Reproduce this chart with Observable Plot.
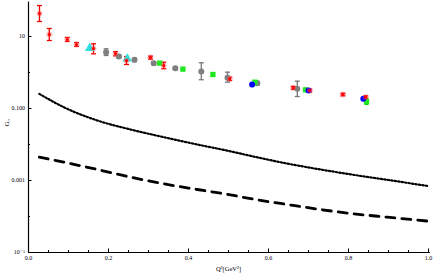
<!DOCTYPE html>
<html>
<head>
<meta charset="utf-8">
<script src="https://cdn.jsdelivr.net/npm/d3@7"></script>
<script src="https://cdn.jsdelivr.net/npm/@observablehq/plot@0.6"></script>
<style>
  html, body { margin: 0; padding: 0; background: #fff; }
  #chart svg { display: block; }
</style>
</head>
<body>
<div id="chart"></div>
<script>
// Red data set (with error bars)
const redQ2 = [0.0275, 0.052, 0.097, 0.12, 0.1625, 0.2175, 0.245, 0.305, 0.338, 0.503, 0.662, 0.703, 0.786, 0.843];
const redG3 = [43.6, 11.4, 8.26, 6.0, 4.64, 3.37, 2.15, 2.6, 1.56, 0.667, 0.375, 0.316, 0.245, 0.206];
const redLo = [26.1, 7.74, 7.3, 5.3, 3.3, 2.9, 1.67, 2.35, 1.27, 0.6, 0.34, 0.29, 0.225, 0.19];
const redHi = [72.6, 16.7, 9.4, 6.8, 6.26, 3.8, 2.78, 2.85, 1.93, 0.74, 0.41, 0.345, 0.265, 0.225];

// Gray data set
const grayQ2 = [0.194, 0.226, 0.265, 0.313, 0.367, 0.432, 0.4975, 0.572, 0.672];
const grayG3 = [3.67, 2.78, 2.25, 1.82, 1.32, 1.07, 0.71, 0.506, 0.352];
const grayLo = [2.97, 2.5, 2.0, 1.65, 1.2, 0.63, 0.54, 0.45, 0.215];
const grayHi = [4.55, 3.1, 2.5, 2.0, 1.45, 1.86, 1.02, 0.57, 0.573];

// Green data set
const greenQ2 = [0.328, 0.386, 0.461, 0.566, 0.6925, 0.845];
const greenG3 = [1.82, 1.24, 0.88, 0.538, 0.33, 0.156];
const greenLo = [1.82, 1.24, 0.88, 0.538, 0.33, 0.13];
const greenHi = [1.82, 1.24, 0.88, 0.538, 0.33, 0.18];

// Blue data set
const blueQ2 = [0.559, 0.70, 0.837];
const blueG3 = [0.464, 0.316, 0.186];
const blueLo = [0.41, 0.316, 0.186];
const blueHi = [0.52, 0.316, 0.186];

// Cyan data set
const cyanQ2 = [0.153, 0.247];
const cyanG3 = [4.74, 2.4];

// Theory curves (log10 of G3)
const curveQ2 = [0.027, 0.088, 0.172, 0.255, 0.338, 0.422, 0.505, 0.563, 0.647, 0.73, 0.813, 0.897, 1.0];
const dottedLog = [-0.593, -0.963, -1.333, -1.583, -1.796, -2.0, -2.19, -2.335, -2.53, -2.694, -2.843, -2.981, -3.157];
const dashedLog = [-2.352, -2.491, -2.694, -2.907, -3.093, -3.25, -3.40, -3.52, -3.667, -3.806, -3.925, -4.019, -4.13];

// Axis ticks
const xMajor = [0, 0.2, 0.4, 0.6, 0.8, 1.0];
const xMinor = [0.05, 0.1, 0.15, 0.25, 0.3, 0.35, 0.45, 0.5, 0.55, 0.65, 0.7, 0.75, 0.85, 0.9, 0.95];
const yMajor = [1e-5, 1e-3, 0.1, 10];
const yMajorLabels = ["10\u207B\u2075", "0.001", "0.100", "10"];
const yMinor = [1e-4, 1e-2, 1];

const pts = (xs, ys, lo, hi) => xs.map((x, i) => ({x, y: ys[i], lo: lo ? lo[i] : ys[i], hi: hi ? hi[i] : ys[i]}));
const red = pts(redQ2, redG3, redLo, redHi);
const gray = pts(grayQ2, grayG3, grayLo, grayHi);
const green = pts(greenQ2, greenG3, greenLo, greenHi);
const blue = pts(blueQ2, blueG3, blueLo, blueHi);
const cyan = pts(cyanQ2, cyanG3);
const dotted = curveQ2.map((x, i) => ({x, y: Math.pow(10, dottedLog[i])}));
const dashed = curveQ2.map((x, i) => ({x, y: Math.pow(10, dashedLog[i])}));

const hline = {draw(ctx, size) { const r = Math.sqrt(size / Math.PI); ctx.moveTo(-r, 0); ctx.lineTo(r, 0); }};

function errMarks(data, color, capR) {
  const withBar = data.filter(d => d.hi > d.lo);
  return [
    Plot.ruleX(withBar, {x: "x", y1: "lo", y2: "hi", stroke: color, strokeWidth: 1.3}),
    Plot.dot(withBar, {x: "x", y: "lo", symbol: hline, r: capR, stroke: color, strokeWidth: 1.3}),
    Plot.dot(withBar, {x: "x", y: "hi", symbol: hline, r: capR, stroke: color, strokeWidth: 1.3})
  ];
}

const fontFam = "'Liberation Serif', 'DejaVu Serif', serif";

const chart = Plot.plot({
  width: 436,
  height: 275,
  marginLeft: 28,
  marginRight: 8,
  marginTop: 0,
  marginBottom: 23,
  style: {fontFamily: fontFam, fontSize: "6px", background: "#fff"},
  x: {domain: [0, 1.0]},
  y: {type: "log", domain: [1e-5, 100]},
  marks: [
    // axis lines
    Plot.ruleX([0], {y1: 1e-5, y2: 90, stroke: "#000", strokeWidth: 1.2}),
    Plot.ruleY([1e-5], {x1: 0, x2: 1.005, stroke: "#000", strokeWidth: 1.2}),
    // x ticks
    Plot.axisX({ticks: xMajor, tickSize: -3.5, tickPadding: 7, tickFormat: d3.format(".1f"), label: null, stroke: "#000"}),
    Plot.axisX({ticks: xMinor, tickSize: -2, tickFormat: () => "", label: null, stroke: "#000"}),
    // y ticks
    Plot.axisY({ticks: yMajor, tickSize: -3.5, tickPadding: 7, tickFormat: (d) => yMajorLabels[yMajor.indexOf(d)], label: null, stroke: "#000"}),
    Plot.axisY({ticks: yMinor, tickSize: -2, tickFormat: () => "", label: null, stroke: "#000"}),
    // axis labels
    Plot.text(["Q\u00B2[GeV\u00B2]"], {frameAnchor: "bottom", dy: 18, fontSize: 6.5, fill: "#000"}),
    Plot.text(["G\u2083"], {frameAnchor: "left", dx: -22, rotate: -90, fontSize: 7, fill: "#000"}),
    // theory curves
    Plot.line(dotted, {x: "x", y: "y", curve: "monotone-x", stroke: "#000", strokeWidth: 2.2, strokeDasharray: "1.5,2"}),
    Plot.line(dashed, {x: "x", y: "y", curve: "monotone-x", stroke: "#000", strokeWidth: 2.8, strokeDasharray: "9,7"}),
    // error bars
    ...errMarks(gray, "#777", 2.5),
    ...errMarks(red, "#e00", 2.5),
    ...errMarks(green, "#0c0", 2),
    ...errMarks(blue, "#00f", 2),
    // data points
    Plot.dot(gray, {x: "x", y: "y", r: 3, fill: "#7f7f7f"}),
    Plot.dot(green, {x: "x", y: "y", symbol: "square", r: 3, fill: "#1ee81e"}),
    Plot.dot(cyan, {x: "x", y: "y", symbol: "triangle", r: 3.6, fill: "#2de0e0"}),
    Plot.dot(blue, {x: "x", y: "y", r: 3, fill: "#0000ff"}),
    Plot.dot(red, {x: "x", y: "y", r: 3, fill: "rgba(255,80,80,0.35)"}),
    Plot.dot(red, {x: "x", y: "y", r: 1.6, fill: "#f00"})
  ]
});

document.getElementById("chart").appendChild(chart);
</script>
</body>
</html>
